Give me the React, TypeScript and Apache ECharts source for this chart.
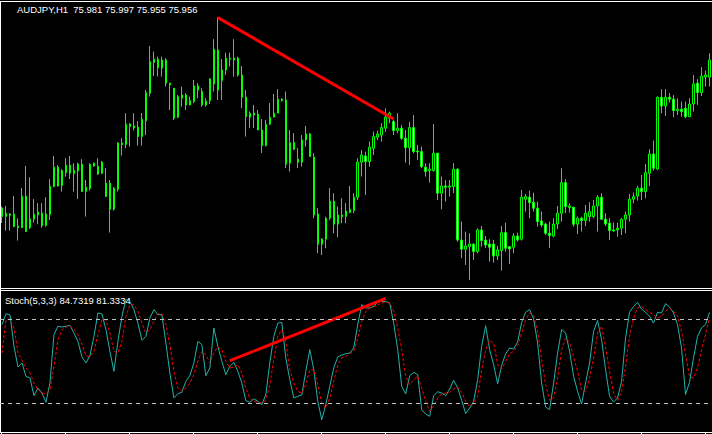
import React, { useEffect, useRef } from "react";
import * as echarts from "echarts";

const SYMBOL_LABEL = "AUDJPY,H1  75.981 75.997 75.955 75.956";
const STOCH_LABEL = "Stoch(5,3,3) 84.7319 81.3334";
const BAR_COUNT = 178;
const categories = Array.from({ length: BAR_COUNT }, (_, i) => `H${i + 1}`);

const opens = [
  75.220, 75.177, 75.190, 75.189, 75.130, 75.122, 75.279, 75.122, 75.164, 75.185,
  75.194, 75.132, 75.187, 75.327, 75.424, 75.332, 75.397, 75.434, 75.392, 75.405,
  75.439, 75.302, 75.317, 75.430, 75.429, 75.394, 75.344, 75.344, 75.214, 75.314,
  75.545, 75.537, 75.627, 75.630, 75.624, 75.577, 75.656, 75.794, 75.947, 75.964,
  75.919, 75.960, 75.844, 75.819, 75.674, 75.769, 75.785, 75.735, 75.752, 75.830,
  75.802, 75.735, 75.757, 75.840, 76.010, 75.857, 75.910, 75.969, 75.969, 75.969,
  75.885, 75.774, 75.674, 75.694, 75.689, 75.610, 75.532, 75.639, 75.674, 75.694,
  75.764, 75.760, 75.444, 75.547, 75.464, 75.449, 75.560, 75.590, 75.474, 75.190,
  75.039, 75.064, 75.169, 75.254, 75.139, 75.185, 75.177, 75.197, 75.207, 75.274,
  75.449, 75.480, 75.452, 75.519, 75.574, 75.585, 75.619, 75.669, 75.652, 75.607,
  75.619, 75.569, 75.522, 75.622, 75.505, 75.502, 75.424, 75.407, 75.407, 75.494,
  75.294, 75.330, 75.324, 75.327, 75.414, 75.060, 75.014, 75.027, 75.039, 75.002,
  75.110, 75.060, 75.040, 75.040, 74.980, 75.007, 75.097, 75.027, 75.024, 75.080,
  75.064, 75.264, 75.274, 75.249, 75.219, 75.155, 75.140, 75.094, 75.080, 75.140,
  75.194, 75.347, 75.222, 75.224, 75.139, 75.169, 75.157, 75.177, 75.177, 75.230,
  75.274, 75.164, 75.144, 75.110, 75.110, 75.119, 75.164, 75.185, 75.264, 75.280,
  75.319, 75.302, 75.394, 75.490, 75.415, 75.774, 75.730, 75.774, 75.764, 75.707,
  75.714, 75.719, 75.677, 75.740, 75.844, 75.797, 75.874, 75.874,
];

const closes = [
  75.177, 75.194, 75.184, 75.127, 75.122, 75.279, 75.102, 75.165, 75.189, 75.200,
  75.132, 75.190, 75.329, 75.424, 75.330, 75.407, 75.434, 75.394, 75.409, 75.440,
  75.302, 75.324, 75.439, 75.444, 75.390, 75.450, 75.277, 75.214, 75.319, 75.545,
  75.537, 75.639, 75.640, 75.620, 75.577, 75.664, 75.797, 75.952, 75.964, 75.922,
  75.960, 75.844, 75.835, 75.669, 75.777, 75.785, 75.735, 75.757, 75.830, 75.810,
  75.735, 75.755, 75.865, 76.014, 75.810, 75.910, 75.969, 75.964, 75.960, 75.885,
  75.774, 75.677, 75.694, 75.685, 75.610, 75.532, 75.639, 75.674, 75.694, 75.764,
  75.757, 75.439, 75.547, 75.514, 75.449, 75.560, 75.590, 75.477, 75.185, 75.039,
  75.064, 75.169, 75.254, 75.139, 75.185, 75.177, 75.205, 75.214, 75.274, 75.449,
  75.485, 75.452, 75.524, 75.577, 75.590, 75.622, 75.674, 75.694, 75.607, 75.619,
  75.569, 75.522, 75.622, 75.502, 75.500, 75.427, 75.402, 75.414, 75.494, 75.294,
  75.330, 75.324, 75.330, 75.414, 75.060, 75.014, 75.030, 75.040, 75.002, 75.110,
  75.057, 75.035, 75.024, 74.980, 75.010, 75.097, 75.019, 75.015, 75.080, 75.060,
  75.274, 75.277, 75.247, 75.219, 75.152, 75.135, 75.094, 75.082, 75.140, 75.194,
  75.347, 75.227, 75.230, 75.139, 75.169, 75.157, 75.194, 75.202, 75.230, 75.274,
  75.164, 75.140, 75.107, 75.105, 75.119, 75.164, 75.185, 75.264, 75.277, 75.319,
  75.302, 75.397, 75.490, 75.419, 75.774, 75.730, 75.774, 75.764, 75.707, 75.714,
  75.702, 75.677, 75.740, 75.840, 75.797, 75.880, 75.885, 75.960,
];

const lows = [
  75.145, 75.107, 75.107, 75.124, 75.057, 75.119, 75.102, 75.115, 75.147, 75.140,
  75.122, 75.127, 75.160, 75.324, 75.327, 75.302, 75.377, 75.365, 75.302, 75.265,
  75.302, 75.177, 75.307, 75.427, 75.385, 75.390, 75.277, 75.097, 75.207, 75.302,
  75.482, 75.519, 75.527, 75.607, 75.532, 75.532, 75.585, 75.777, 75.880, 75.877,
  75.877, 75.827, 75.710, 75.660, 75.669, 75.727, 75.710, 75.735, 75.744, 75.769,
  75.727, 75.727, 75.740, 75.802, 75.760, 75.760, 75.885, 75.927, 75.877, 75.877,
  75.719, 75.577, 75.619, 75.620, 75.610, 75.495, 75.527, 75.635, 75.674, 75.694,
  75.752, 75.419, 75.402, 75.510, 75.420, 75.427, 75.527, 75.477, 75.169, 74.994,
  74.985, 75.019, 75.160, 75.094, 75.074, 75.144, 75.144, 75.194, 75.194, 75.260,
  75.377, 75.285, 75.427, 75.485, 75.560, 75.552, 75.602, 75.644, 75.585, 75.594,
  75.560, 75.447, 75.435, 75.494, 75.460, 75.419, 75.377, 75.347, 75.402, 75.260,
  75.214, 75.252, 75.277, 75.294, 75.052, 74.969, 74.935, 74.860, 74.960, 74.994,
  75.027, 75.019, 74.952, 74.947, 74.960, 74.907, 75.002, 74.940, 74.994, 75.052,
  75.057, 75.202, 75.169, 75.202, 75.127, 75.124, 75.085, 75.019, 75.074, 75.114,
  75.152, 75.194, 75.197, 75.127, 75.090, 75.102, 75.130, 75.152, 75.169, 75.102,
  75.160, 75.130, 75.060, 75.102, 75.077, 75.085, 75.094, 75.152, 75.244, 75.257,
  75.260, 75.269, 75.330, 75.407, 75.410, 75.694, 75.680, 75.747, 75.674, 75.685,
  75.677, 75.669, 75.677, 75.702, 75.735, 75.780, 75.827, 75.827,
];

const highs = [
  75.227, 75.230, 75.194, 75.280, 75.169, 75.320, 75.430, 75.374, 75.265, 75.244,
  75.244, 75.274, 75.364, 75.480, 75.435, 75.414, 75.469, 75.480, 75.444, 75.447,
  75.464, 75.360, 75.444, 75.447, 75.469, 75.455, 75.419, 75.360, 75.324, 75.549,
  75.569, 75.694, 75.644, 75.694, 75.655, 75.695, 75.810, 76.030, 76.002, 75.977,
  75.977, 75.969, 75.847, 75.819, 75.785, 75.827, 75.794, 75.777, 75.860, 75.844,
  75.819, 75.769, 75.869, 76.064, 76.174, 75.964, 75.997, 75.997, 76.064, 75.977,
  75.930, 75.810, 75.702, 75.735, 75.710, 75.665, 75.660, 75.745, 75.790, 75.814,
  75.769, 75.802, 75.610, 75.594, 75.519, 75.585, 75.630, 75.594, 75.494, 75.219,
  75.069, 75.177, 75.319, 75.294, 75.227, 75.269, 75.244, 75.330, 75.294, 75.469,
  75.510, 75.502, 75.552, 75.602, 75.607, 75.644, 75.719, 75.702, 75.660, 75.694,
  75.635, 75.610, 75.652, 75.685, 75.535, 75.527, 75.444, 75.444, 75.640, 75.494,
  75.377, 75.360, 75.360, 75.444, 75.419, 75.152, 75.102, 75.094, 75.044, 75.119,
  75.130, 75.080, 75.064, 75.060, 75.030, 75.130, 75.147, 75.030, 75.094, 75.097,
  75.310, 75.290, 75.307, 75.297, 75.252, 75.202, 75.147, 75.152, 75.169, 75.230,
  75.419, 75.364, 75.244, 75.224, 75.177, 75.177, 75.235, 75.249, 75.260, 75.285,
  75.294, 75.194, 75.169, 75.147, 75.147, 75.169, 75.202, 75.290, 75.297, 75.330,
  75.385, 75.440, 75.514, 75.557, 75.777, 75.814, 75.814, 75.794, 75.785, 75.769,
  75.752, 75.752, 75.769, 75.885, 75.864, 75.924, 75.907, 75.994,
];

const stochMain = [
  76, 83.8, 83, 60.5, 45.7, 48.6, 39, 37.9, 25.2, 30.7,
  27.1, 20.5, 34.3, 68.8, 74.8, 74.3, 74.8, 75.5, 70, 64,
  52.9, 48.6, 53.8, 67.6, 84.3, 83.6, 72.4, 56.9, 42.6, 64,
  81.9, 93.8, 92.6, 86.7, 77.1, 64.8, 67.6, 80.7, 86.7, 83.1,
  83.1, 62.9, 41.4, 23.6, 26.7, 27.6, 35.5, 39.5, 48.6, 64,
  61.7, 39.5, 45, 73.6, 60.5, 49.8, 40.2, 46.2, 49, 42.6,
  34.3, 21.7, 20.5, 22.9, 21.2, 18.8, 26, 48.6, 67.6, 77.1,
  77.6, 52.1, 36.7, 23.6, 24.8, 25.7, 42.6, 58.1, 43.8, 21.2,
  8.1, 18.8, 31.9, 45, 52.9, 54.3, 55.2, 55.7, 59.3, 76,
  90.2, 87.9, 87.9, 89, 92.1, 92.6, 92.6, 91.4, 77.1, 58.1,
  31.9, 26.4, 39.5, 41.9, 40.2, 15.2, 12.1, 10.5, 25.2, 28.1,
  27.1, 25.2, 30, 36.2, 30.7, 21.9, 12.4, 16.4, 21.2, 36.7,
  60.5, 75.2, 58.1, 47.4, 33.6, 46.9, 55.2, 59.3, 58.6, 63.6,
  77.6, 84.8, 86.7, 80, 62.9, 34.3, 17.1, 15.2, 34.3, 55.7,
  72.4, 70, 56.9, 39, 28.3, 19.3, 34.3, 48.6, 71.2, 79,
  65.2, 43.8, 24.8, 20.7, 23.6, 35.5, 66.4, 84.8, 89, 91.9,
  87.1, 84.8, 81.9, 77.1, 84.8, 84.3, 91, 88.6, 84.3, 76,
  59.3, 26, 34.8, 52.1, 67.6, 73.6, 76, 84.73,
];

const stochSignal = [
  55.7, 79.5, 80, 73.6, 55.7, 50.5, 45, 41.4, 34.3, 29.5,
  27.1, 26.7, 29.5, 46.2, 65.2, 72.4, 74.3, 74.8, 72.9, 68.8,
  61.7, 53.8, 52.9, 56.9, 68.8, 79.5, 79.5, 70, 56.9, 55.7,
  64, 81.9, 90.2, 90.2, 85.5, 77.1, 70, 72.4, 78.3, 83.8,
  83.6, 76, 61.7, 42.6, 30.7, 28.3, 30.7, 34.3, 40.2, 49.8,
  56.9, 54.5, 48.6, 55.7, 60, 58.1, 49.8, 45, 45.5, 47.4,
  41.4, 30.7, 23.6, 21.2, 20.5, 20, 21.9, 33.1, 51, 67.6,
  72.4, 64, 43.8, 34.3, 28.3, 27.1, 33.1, 43.8, 43.8, 33.1,
  20, 16.4, 23.6, 35.5, 47.4, 52.1, 53.3, 55.2, 56.9, 66.4,
  78.3, 85.5, 87.9, 88.6, 90.2, 91.4, 91.9, 91.4, 85.5, 73.6,
  58.1, 39, 33.1, 36.7, 39, 30.7, 21.2, 14, 17.6, 23.6,
  26.7, 27.1, 27.6, 30, 31.4, 27.6, 21.2, 17.6, 20, 24.8,
  43.8, 58.1, 64.8, 62.9, 47.4, 44.3, 49.8, 55.2, 56.9, 61,
  70, 79.5, 84.3, 82.4, 71.2, 51, 33.1, 21.9, 23.6, 37.9,
  58.1, 66.4, 63.3, 52.9, 42.6, 29.5, 28.3, 37.9, 52.1, 70,
  74.8, 59.3, 42.6, 27.1, 21.9, 28.3, 46.2, 67.6, 80.7, 87.9,
  89, 86.7, 84.8, 83.1, 80.7, 81.9, 85.5, 87.9, 85.5, 81.9,
  71.2, 54.5, 39, 37.9, 45, 58.1, 68.8, 81.33,
];

const stochLevels = [20, 80];
// trendlines: [bar index, value]
const priceTrendline = [
  [54, 76.172],
  [98, 75.665],
];
const stochTrendline = [
  [57, 50.2],
  [96, 94.8],
];

const W = 712;
const H = 434;

export default function App() {
  const ref = useRef<HTMLDivElement>(null);

  useEffect(() => {
    if (!ref.current) return;
    const chart = echarts.init(ref.current, undefined, { renderer: "svg", width: W, height: H });

    const candles = opens.map((o, i) => [o, closes[i], lows[i], highs[i]]);

    const white = "#ffffff";
    const frame: any[] = [];
    const hLine = (y: number, x1 = 0, x2 = W) =>
      frame.push({ type: "line", silent: true, shape: { x1, y1: y, x2, y2: y }, style: { stroke: white, lineWidth: 1 } });
    const vLine = (x: number, y1: number, y2: number) =>
      frame.push({ type: "line", silent: true, shape: { x1: x, y1, x2: x, y2 }, style: { stroke: white, lineWidth: 1 } });
    hLine(1.5);
    hLine(288.5);
    hLine(290.5);
    hLine(432.5);
    vLine(0.5, 1, 433);
    for (let k = 0; k * 64 + 1 < W; k++) vLine(1.5 + k * 64, 432, 434);

    const textFont = "9.5px 'Liberation Sans', Arial, sans-serif";
    frame.push({
      type: "text",
      silent: true,
      x: 17,
      y: 9.5,
      style: { text: SYMBOL_LABEL, fill: white, font: textFont, textVerticalAlign: "middle", verticalAlign: "middle" },
    });
    frame.push({
      type: "text",
      silent: true,
      x: 5,
      y: 300,
      style: { text: STOCH_LABEL, fill: white, font: textFont, textVerticalAlign: "middle", verticalAlign: "middle" },
    });

    chart.setOption({
      animation: false,
      backgroundColor: "#000000",
      grid: [
        { left: -0.5, top: 2, width: W, height: 286 },
        { left: -0.5, top: 291, width: W, height: 140 },
      ],
      xAxis: [
        { type: "category", data: categories, gridIndex: 0, show: false, boundaryGap: true },
        { type: "category", data: categories, gridIndex: 1, show: false, boundaryGap: true },
      ],
      yAxis: [
        { type: "value", gridIndex: 0, min: 74.82, max: 76.25, show: false, splitLine: { show: false } },
        { type: "value", gridIndex: 1, min: 0, max: 100, show: false, splitLine: { show: false } },
      ],
      series: [
        {
          type: "candlestick",
          xAxisIndex: 0,
          yAxisIndex: 0,
          data: candles,
          barWidth: 2,
          silent: true,
          itemStyle: {
            color: "#000000",
            color0: "#ffffff",
            borderColor: "#00ff00",
            borderColor0: "#00ff00",
            borderWidth: 1,
          },
        },
        {
          type: "line",
          xAxisIndex: 0,
          yAxisIndex: 0,
          data: priceTrendline,
          symbol: "none",
          silent: true,
          lineStyle: { color: "#ff0000", width: 3 },
        },
        {
          type: "line",
          xAxisIndex: 1,
          yAxisIndex: 1,
          data: stochMain,
          symbol: "none",
          silent: true,
          lineStyle: { color: "#20b2aa", width: 1 },
          markLine: {
            silent: true,
            symbol: "none",
            label: { show: false },
            lineStyle: { color: "#c0c0c0", type: [4, 4], width: 1 },
            data: stochLevels.map((v) => ({ yAxis: v })),
          },
        },
        {
          type: "line",
          xAxisIndex: 1,
          yAxisIndex: 1,
          data: stochSignal,
          symbol: "none",
          silent: true,
          lineStyle: { color: "#ff0000", width: 1, type: [3, 2] },
        },
        {
          type: "line",
          xAxisIndex: 1,
          yAxisIndex: 1,
          data: stochTrendline,
          symbol: "none",
          silent: true,
          lineStyle: { color: "#ff0000", width: 3 },
        },
      ],
      graphic: frame,
    });

    return () => chart.dispose();
  }, []);

  return (
    <div
      ref={ref}
      style={{ position: "fixed", left: 0, top: 0, width: W, height: H, background: "#000" }}
    />
  );
}
